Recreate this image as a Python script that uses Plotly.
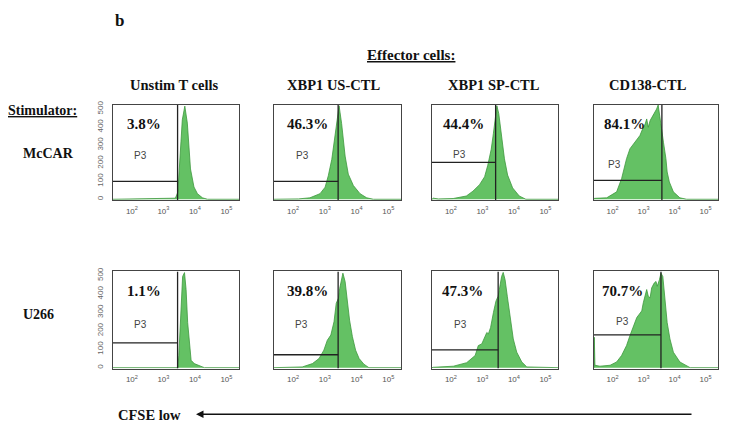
import plotly.graph_objects as go

# ---------------- data ----------------
row_labels = ["McCAR", "U266"]
col_labels = ["Unstim T cells", "XBP1 US-CTL", "XBP1 SP-CTL", "CD138-CTL"]
pct_labels = ["3.8%", "46.3%", "44.4%", "84.1%", "1.1%", "39.8%", "47.3%", "70.7%"]

x_tickvals = [2, 3, 4, 5]
x_ticktext = ["10<sup>2</sup>", "10<sup>3</sup>", "10<sup>4</sup>", "10<sup>5</sup>"]
y_tickvals = [0, 100, 200, 300, 400, 500]

# log10(CFSE) vs. count
mccar_unstim_x = [1.4, 2.16, 2.8, 3.38, 3.46, 3.52, 3.6, 3.68, 3.76, 3.81, 3.86, 3.97, 4.08, 4.24, 4.4, 5.4]
mccar_unstim_y = [0, 3, 5, 6, 40, 222, 440, 516, 422, 295, 168, 68, 31, 8, 0, 0]

mccar_us_x = [1.4, 2.0, 2.17, 2.53, 2.85, 3.01, 3.11, 3.22, 3.32, 3.39, 3.45, 3.53, 3.64, 3.74, 3.9, 4.11, 4.32, 4.53, 5.4]
mccar_us_y = [0, 0, 2, 8, 31, 67, 130, 221, 347, 455, 518, 419, 239, 139, 76, 31, 8, 0, 0]

mccar_sp_x = [1.4, 1.44, 1.6, 2.07, 2.49, 2.7, 2.91, 3.07, 3.17, 3.28, 3.35, 3.42, 3.46, 3.52, 3.6, 3.7, 3.8, 3.96, 4.17, 4.38, 5.4]
mccar_sp_y = [0, 6, 2, 4, 18, 45, 81, 125, 188, 277, 366, 474, 518, 474, 366, 224, 134, 63, 18, 0, 0]

mccar_cd138_x = [1.4, 1.41, 1.81, 2.13, 2.29, 2.45, 2.56, 2.67, 2.78, 2.88, 2.97, 3.05, 3.1, 3.15, 3.21, 3.31, 3.42, 3.47, 3.53, 3.58, 3.64, 3.72, 3.76, 3.83, 3.96, 4.17, 4.39, 5.4]
mccar_cd138_y = [0, 5, 8, 41, 114, 225, 280, 307, 335, 353, 390, 417, 445, 399, 436, 463, 500, 522, 463, 390, 316, 225, 151, 96, 41, 8, 0, 0]

u266_unstim_x = [1.4, 2.57, 3.4, 3.46, 3.49, 3.56, 3.61, 3.67, 3.72, 3.77, 3.83, 3.88, 3.98, 4.14, 4.3, 5.4]
u266_unstim_y = [0, 2, 2, 0, 66, 334, 495, 516, 424, 245, 102, 40, 22, 9, 0, 0]

u266_us_x = [1.4, 1.98, 2.29, 2.61, 2.82, 2.97, 3.08, 3.19, 3.29, 3.36, 3.43, 3.47, 3.53, 3.57, 3.64, 3.71, 3.78, 3.87, 3.97, 4.08, 4.23, 4.39, 5.4]
u266_us_y = [0, 0, 4, 22, 50, 95, 149, 177, 249, 349, 377, 431, 495, 513, 467, 368, 258, 168, 95, 50, 19, 0, 0]

u266_sp_x = [1.4, 1.44, 2.08, 2.5, 2.77, 2.87, 2.98, 3.08, 3.14, 3.19, 3.26, 3.35, 3.43, 3.5, 3.56, 3.61, 3.66, 3.72, 3.79, 3.88, 3.98, 4.09, 4.25, 4.41, 5.4]
u266_sp_y = [0, 2, 8, 27, 66, 120, 129, 174, 191, 183, 218, 299, 361, 388, 442, 495, 517, 477, 388, 263, 156, 84, 31, 4, 0]

u266_cd138_x = [1.4, 1.41, 1.43, 1.59, 1.92, 2.13, 2.29, 2.45, 2.56, 2.67, 2.78, 2.86, 2.94, 2.99, 3.05, 3.1, 3.15, 3.21, 3.26, 3.34, 3.4, 3.44, 3.51, 3.56, 3.62, 3.69, 3.76, 3.85, 3.96, 4.17, 4.39, 4.5, 5.4]
u266_cd138_y = [0, 165, 13, 8, 13, 31, 66, 120, 174, 218, 272, 290, 308, 352, 397, 424, 388, 379, 433, 459, 468, 442, 477, 513, 495, 370, 245, 156, 84, 31, 8, 0, 0]

# P3 gate marker: vertical position (log CFSE) and horizontal bar level (count)
gate_x = [3.45, 3.42, 3.42, 3.59, 3.45, 3.42, 3.50, 3.56]
gate_y = [99, 99, 204, 105, 135, 70, 97, 178]

hist_x = [mccar_unstim_x, mccar_us_x, mccar_sp_x, mccar_cd138_x,
          u266_unstim_x, u266_us_x, u266_sp_x, u266_cd138_x]
hist_y = [mccar_unstim_y, mccar_us_y, mccar_sp_y, mccar_cd138_y,
          u266_unstim_y, u266_us_y, u266_sp_y, u266_cd138_y]

# ---------------- layout geometry (pixels) ----------------
W, H = 729, 431
col_px = [(113, 239), (274, 401), (432, 558), (594, 718)]
row_px = [(102, 198), (270, 368)]
XR = [1.4, 5.4]
YR = [-5, 522]

def px(x):
    return x / W

def py(y):
    return 1 - y / H

fig = go.Figure()
annotations = []
layout = dict(
    width=W, height=H,
    margin=dict(l=0, r=0, t=0, b=0),
    paper_bgcolor="white", plot_bgcolor="white",
    showlegend=False,
)

fill_col = "rgb(100,193,100)"
edge_col = "rgb(62,152,62)"
gate_col = "#222222"
serif = "Liberation Serif, Times New Roman, serif"
sans = "Liberation Sans, Arial, sans-serif"

p3_off = [(27, 51), (28, 51), (27, 50), (20, 60), (27, 53), (27, 53), (28, 53), (28, 50)]
pct_off = [(12, 19), (11, 19), (9, 19), (8, 19), (12, 20), (11, 20), (8, 20), (6, 20)]

for i in range(8):
    r, c = divmod(i, 4)
    n = i + 1
    xa = "x" if n == 1 else f"x{n}"
    ya = "y" if n == 1 else f"y{n}"
    xl, xr = col_px[c]
    yt, yb = row_px[r]

    fig.add_trace(go.Scatter(
        x=hist_x[i], y=hist_y[i], mode="lines", fill="tozeroy",
        fillcolor=fill_col, line=dict(color=edge_col, width=0.8),
        xaxis=xa, yaxis=ya, hoverinfo="skip"))
    # vertical gate line
    fig.add_trace(go.Scatter(
        x=[gate_x[i], gate_x[i]], y=YR, mode="lines",
        line=dict(color=gate_col, width=1.3), xaxis=xa, yaxis=ya, hoverinfo="skip"))
    # horizontal gate bar
    fig.add_trace(go.Scatter(
        x=[XR[0], gate_x[i]], y=[gate_y[i], gate_y[i]], mode="lines",
        line=dict(color=gate_col, width=1.3), xaxis=xa, yaxis=ya, hoverinfo="skip"))

    xkey = "xaxis" if n == 1 else f"xaxis{n}"
    ykey = "yaxis" if n == 1 else f"yaxis{n}"
    layout[xkey] = dict(
        domain=[px(xl), px(xr)], range=XR, anchor=ya,
        showgrid=False, zeroline=False, showline=True, mirror=True,
        linecolor="#444444", linewidth=1,
        tickvals=x_tickvals, ticktext=x_ticktext, ticks="",
        ticklabelstandoff=3,
        tickfont=dict(family=sans, size=8, color="#555555"),
        fixedrange=True)
    layout[ykey] = dict(
        domain=[py(yb), py(yt)], range=YR, anchor=xa,
        showgrid=False, zeroline=False, showline=True, mirror=True,
        linecolor="#444444", linewidth=1,
        tickvals=y_tickvals if c == 0 else [],
        showticklabels=(c == 0), tickangle=-90, ticks="",
        ticklabelstandoff=6,
        tickfont=dict(family=sans, size=8, color="#666666"),
        fixedrange=True)

    annotations.append(dict(
        x=px(xl + pct_off[i][0]), y=py(yt + pct_off[i][1]), xref="paper", yref="paper",
        xanchor="left", yanchor="middle", showarrow=False,
        text=f"<b>{pct_labels[i]}</b>",
        font=dict(family=serif, size=15, color="#111111")))
    annotations.append(dict(
        x=px(xl + p3_off[i][0]), y=py(yt + p3_off[i][1]), xref="paper", yref="paper",
        xanchor="center", yanchor="middle", showarrow=False, text="P3",
        font=dict(family=sans, size=10, color="#444444")))

# column titles
col_cx = [174, 333, 494, 648]
for c in range(4):
    annotations.append(dict(
        x=px(col_cx[c]), y=py(82), xref="paper", yref="paper",
        xanchor="center", yanchor="middle", showarrow=False,
        text=f"<b>{col_labels[c]}</b>",
        font=dict(family=serif, size=14.5, color="#111111")))

# row labels
row_cy = [151, 313]
for r in range(2):
    annotations.append(dict(
        x=px(21), y=py(row_cy[r]), xref="paper", yref="paper",
        xanchor="left", yanchor="middle", showarrow=False,
        text=f"<b>{row_labels[r]}</b>",
        font=dict(family=serif, size=14, color="#111111")))

annotations += [
    dict(x=px(113), y=py(17), xref="paper", yref="paper", xanchor="left", yanchor="middle",
         showarrow=False, text="<b>b</b>", font=dict(family=serif, size=17, color="#111111")),
    dict(x=px(411), y=py(51), xref="paper", yref="paper", xanchor="center", yanchor="middle",
         showarrow=False, text="<b><u>Effector cells:</u></b>",
         font=dict(family=serif, size=15, color="#111111")),
    dict(x=px(6), y=py(108), xref="paper", yref="paper", xanchor="left", yanchor="middle",
         showarrow=False, text="<b><u>Stimulator:</u></b>",
         font=dict(family=serif, size=14, color="#111111")),
    dict(x=px(116), y=py(415), xref="paper", yref="paper", xanchor="left", yanchor="middle",
         showarrow=False, text="<b>CFSE low</b>",
         font=dict(family=serif, size=14.5, color="#111111")),
    dict(x=px(196), y=py(414), xref="paper", yref="paper", showarrow=True, text="",
         ax=693 - 196, ay=0, axref="pixel", ayref="pixel",
         arrowhead=2, arrowsize=1, arrowwidth=1.5, arrowcolor="#111111"),
]
layout["annotations"] = annotations

fig.update_layout(**layout)
fig.write_html("out.html", config={"displayModeBar": False},
               post_script="document.body.style.margin='0';document.body.style.padding='0';")
